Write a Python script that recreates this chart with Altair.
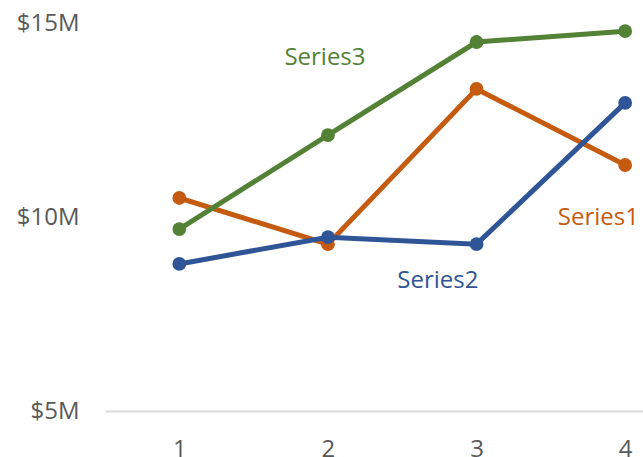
import altair as alt
import pandas as pd

# Category positions along the x axis
categories = [1, 2, 3, 4]

# Values in millions of dollars
series1 = [10.49, 9.30, 13.30, 11.34]
series2 = [8.79, 9.48, 9.30, 12.94]
series3 = [9.69, 12.11, 14.51, 14.79]

series_names = ["Series1", "Series2", "Series3"]
series_colors = ["#C55A11", "#2F5597", "#538135"]

# Where each series name sits, in data units
label_x = [3.82, 2.74, 1.98]
label_y = [9.98, 8.36, 14.10]

rows = []
for name, vals in zip(series_names, [series1, series2, series3]):
    for c, v in zip(categories, vals):
        rows.append({"cat": c, "value": v, "series": name})
df = pd.DataFrame(rows)

labels = pd.DataFrame({"series": series_names, "lx": label_x, "ly": label_y})

FONT = "Open Sans"

x_scale = alt.Scale(domain=[0.5, 4.12], nice=False, zero=False)
y_scale = alt.Scale(domain=[5, 15], nice=False, zero=False)
color_scale = alt.Scale(domain=series_names, range=series_colors)

x_axis = alt.Axis(
    values=categories,
    format="d",
    title=None,
    grid=False,
    ticks=False,
    domain=True,
    domainColor="#D9D9D9",
    domainWidth=2,
    labelFont=FONT,
    labelFontSize=24,
    labelColor="#595959",
    labelPadding=26,
    labelFlush=False,
)
y_axis = alt.Axis(
    values=[5, 10, 15],
    title=None,
    grid=False,
    ticks=False,
    domain=False,
    labelExpr="'$' + datum.value + 'M'",
    labelFont=FONT,
    labelFontSize=24,
    labelColor="#595959",
    labelPadding=26,
)

base = alt.Chart(df).encode(
    x=alt.X("cat:Q", scale=x_scale, axis=x_axis),
    y=alt.Y("value:Q", scale=y_scale, axis=y_axis),
    color=alt.Color("series:N", scale=color_scale, legend=None),
    detail="series:N",
)

lines = base.mark_line(strokeWidth=5)
points = base.mark_circle(size=190, opacity=1)

# Series names placed next to their lines
text = alt.Chart(labels).mark_text(
    font=FONT, fontSize=24, align="center", baseline="middle"
).encode(
    x=alt.X("lx:Q", scale=x_scale, axis=x_axis),
    y=alt.Y("ly:Q", scale=y_scale, axis=y_axis),
    text="series:N",
    color=alt.Color("series:N", scale=color_scale, legend=None),
)

chart = (
    alt.layer(lines, points, text)
    .properties(
        width=538,
        height=388,
        background="white",
        autosize=alt.AutoSizeParams(type="none"),
        padding={"left": 105, "top": 23, "right": 0, "bottom": 46},
    )
    .configure_axis(grid=False, ticks=False)
    .configure_view(strokeWidth=0, stroke="transparent")
)

chart.save("out.html", embed_options={"renderer": "svg", "actions": False})
